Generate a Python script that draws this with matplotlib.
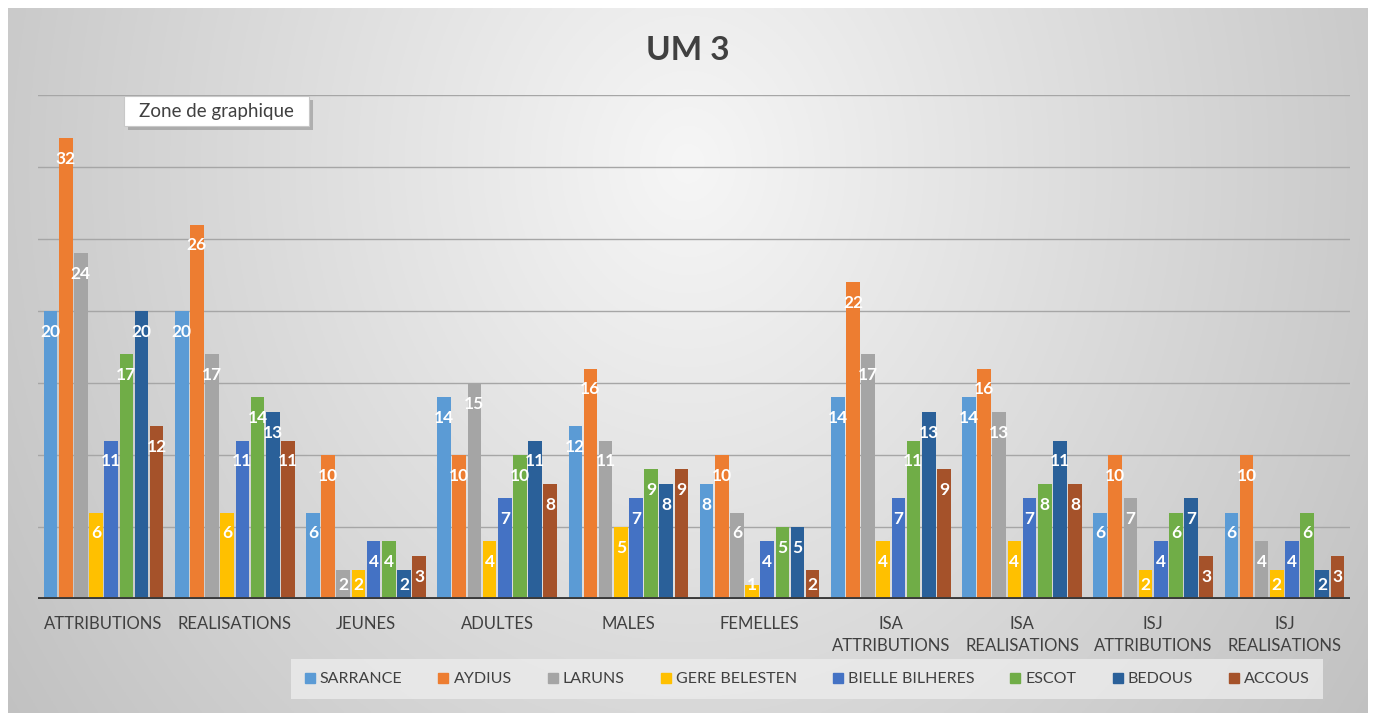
import numpy as np
import matplotlib
matplotlib.use("Agg")
import matplotlib.pyplot as plt
from matplotlib.lines import Line2D
from matplotlib.patches import Rectangle

plt.rcParams['font.family'] = ['Lato', 'DejaVu Sans']

categories = ["ATTRIBUTIONS", "REALISATIONS", "JEUNES", "ADULTES", "MALES",
              "FEMELLES", "ISA\nATTRIBUTIONS", "ISA\nREALISATIONS",
              "ISJ\nATTRIBUTIONS", "ISJ\nREALISATIONS"]
series_names = ["SARRANCE", "AYDIUS", "LARUNS", "GERE BELESTEN",
                "BIELLE BILHERES", "ESCOT", "BEDOUS", "ACCOUS"]
sarrance = [20, 20, 6, 14, 12, 8, 14, 14, 6, 6]
aydius = [32, 26, 10, 10, 16, 10, 22, 16, 10, 10]
laruns = [24, 17, 2, 15, 11, 6, 17, 13, 7, 4]
gere_belesten = [6, 6, 2, 4, 5, 1, 4, 4, 2, 2]
bielle_bilheres = [11, 11, 4, 7, 7, 4, 7, 7, 4, 4]
escot = [17, 14, 4, 10, 9, 5, 11, 8, 6, 6]
bedous = [20, 13, 2, 11, 8, 5, 13, 11, 7, 2]
accous = [12, 11, 3, 8, 9, 2, 9, 8, 3, 3]
series_values = [sarrance, aydius, laruns, gere_belesten, bielle_bilheres,
                 escot, bedous, accous]
colors = ["#5B9BD5", "#ED7D31", "#A5A5A5", "#FFC000", "#4472C4",
          "#70AD47", "#2A6099", "#A5522A"]

W, H = 1375, 715
fig = plt.figure(figsize=(W / 100, H / 100), dpi=100)
fig.patch.set_facecolor("white")

# background gradient (chart area)
bg = fig.add_axes([8 / W, 1 - 713 / H, (1368 - 8) / W, (713 - 8) / H], zorder=-5)
yy, xx = np.mgrid[0:1:300j, 0:1:600j]
dx = (xx - 0.5) / 0.5
dy = (yy - 0.22) / 0.8
r = np.sqrt(dx ** 2 + 0.5 * dy ** 2)
v = np.clip(0.965 - 0.17 * r, 0, 1)
bg.imshow(np.dstack([v, v, v]), aspect="auto", extent=[0, 1, 1, 0])
bg.set_axis_off()

ax = fig.add_axes([38 / W, 1 - 599 / H, (1350 - 38) / W, (599 - 95) / H])
ax.patch.set_alpha(0)
x = np.arange(len(categories))
n = len(series_names)
slot = 0.1155
bw = slot * 0.9
for i, (name, vals, c) in enumerate(zip(series_names, series_values, colors)):
    pos = x + (i - (n - 1) / 2) * slot
    ax.bar(pos, vals, width=bw, color=c, zorder=3)
    for px, val in zip(pos, vals):
        ly = max(val - 1.45, 0.95)
        ax.text(px, ly, str(val), ha="center", va="center", color="white",
                fontsize=12.5, fontweight="bold", zorder=4)

ax.set_ylim(0, 35)
ax.set_xlim(-0.5, len(categories) - 0.5)
ax.set_yticks(np.arange(5, 36, 5))
ax.yaxis.grid(True, color="#a6a6a6", lw=1, zorder=0)
ax.tick_params(axis="y", left=False, labelleft=False)
ax.axhline(0, color="#3a3a3a", lw=2.8, zorder=5)
ax.set_xticks(x)
ax.set_xticklabels(categories, fontsize=12, color="#404040", linespacing=1.5)
ax.tick_params(axis="x", length=0, pad=12)
for s in ax.spines.values():
    s.set_visible(False)

fig.text(688 / W, 1 - 50 / H, "UM 3", ha="center", va="center",
         fontsize=24, fontweight="bold", color="#404040")

# tooltip
fig.patches.append(Rectangle((128 / W, 1 - 130 / H), 185 / W, 30 / H,
                             transform=fig.transFigure, fc="#8a8a8a", ec="none",
                             alpha=0.55, zorder=8))
fig.patches.append(Rectangle((124 / W, 1 - 126 / H), 185 / W, 30 / H,
                             transform=fig.transFigure, fc="white", ec="#c8c8c8",
                             lw=0.8, zorder=9))
fig.text(216 / W, 1 - 111 / H, "Zone de graphique", ha="center", va="center",
         fontsize=13.5, color="#404040", zorder=10)

handles = [Line2D([0], [0], marker="s", linestyle="none", markersize=7,
                  markerfacecolor=c, markeredgecolor=c) for c in colors]
leg = fig.legend(handles, series_names, loc="center", ncol=8,
                 bbox_to_anchor=(807 / W, 1 - 679 / H), frameon=True,
                 fontsize=11.5, handlelength=0.7, handletextpad=0.3,
                 columnspacing=2.2, borderpad=0.5)
leg.get_frame().set_facecolor("#ececec")
leg.get_frame().set_edgecolor("none")
leg.get_frame().set_alpha(0.8)
leg.get_frame().set_boxstyle("square")
for t in leg.get_texts():
    t.set_color("#404040")

fig.savefig("out.png", dpi=100)
